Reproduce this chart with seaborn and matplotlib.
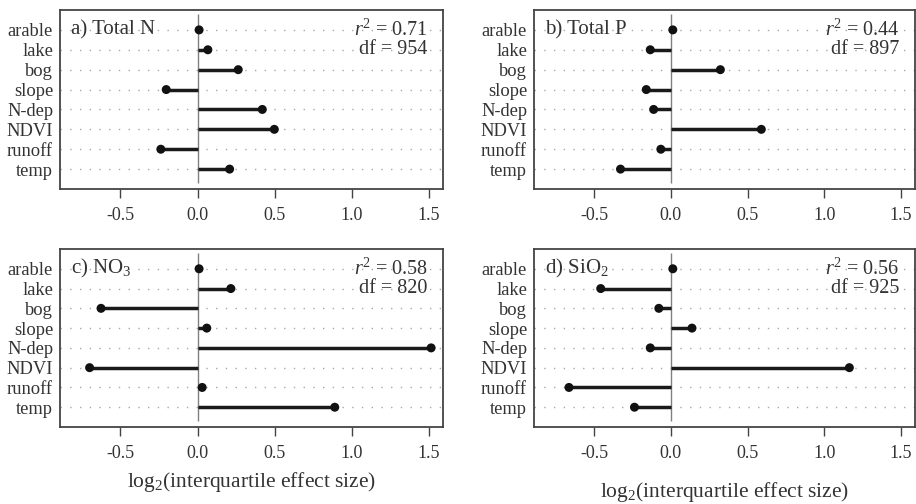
import numpy as np
import pandas as pd
import matplotlib
matplotlib.use('Agg')
import matplotlib.pyplot as plt
import seaborn as sns

# 数据
factors = ['arable', 'lake', 'bog', 'slope', 'N-dep', 'NDVI', 'runoff', 'temp']
total_n = [0.01, 0.067, 0.264, -0.203, 0.42, 0.498, -0.238, 0.208]
total_p = [0.013, -0.134, 0.323, -0.16, -0.112, 0.59, -0.065, -0.328]
no3 = [0.01, 0.216, -0.626, 0.06, 1.515, -0.70, 0.03, 0.89]
sio2 = [0.013, -0.457, -0.078, 0.138, -0.134, 1.164, -0.664, -0.237]

panel_titles = ['a) Total N', 'b) Total P', 'c) NO$_3$', 'd) SiO$_2$']
r2_values = ['0.71', '0.44', '0.58', '0.56']
df_values = ['954', '897', '820', '925']
x_ticks = [-0.5, 0.0, 0.5, 1.0, 1.5]
x_label = 'log$_2$(interquartile effect size)'

series = [total_n, total_p, no3, sio2]

sns.set_theme(style='white')
plt.rcParams['font.family'] = ['Liberation Serif', 'DejaVu Serif']
plt.rcParams['mathtext.fontset'] = 'custom'
plt.rcParams['mathtext.rm'] = 'Liberation Serif'
plt.rcParams['mathtext.it'] = 'Liberation Serif:italic'
plt.rcParams['axes.unicode_minus'] = False

fig = plt.figure(figsize=(9.16, 5.04), dpi=100)
W, H = 916, 504
# 各面板位置 (像素)
boxes = [(60, 10, 443, 189), (534, 10, 915, 189),
         (60, 249, 443, 427), (534, 249, 915, 427)]

pos = np.arange(len(factors))

for i, (vals, (l, t, r, b)) in enumerate(zip(series, boxes)):
    ax = fig.add_axes([l / W, 1 - b / H, (r - l) / W, (b - t) / H])
    data = pd.DataFrame({'pos': pos, 'value': vals})

    for p in pos:
        ax.axhline(p, color='#a8a8a8', lw=1.0, ls=(0, (1, 6)), zorder=0)
    ax.vlines(0, -0.8, 7.7, color='#808080', lw=1.0, zorder=1)
    ax.hlines(data['pos'], 0, data['value'], color='#1a1a1a', lw=2.5, zorder=2)
    sns.scatterplot(data=data, x='value', y='pos', ax=ax, color='#111111',
                    s=42, edgecolor='none', zorder=3, legend=False)

    ax.set_xlim(-0.892, 1.592)
    ax.set_ylim(8, -1)
    ax.set_xticks(x_ticks)
    ax.set_xticklabels(['%.1f' % v for v in x_ticks])
    ax.set_yticks(pos)
    ax.set_yticklabels(factors)
    ax.tick_params(axis='x', length=6.5, width=1.0, color='#444444', pad=6.5,
                   labelsize=13, labelcolor='#333333', bottom=True)
    ax.tick_params(axis='y', length=0, pad=5, labelsize=13.3, labelcolor='#333333')
    for s in ax.spines.values():
        s.set_color('#444444')
        s.set_linewidth(1.3)
    ax.set_xlabel('')
    ax.set_ylabel('')

    trans = ax.get_yaxis_transform()
    ax.text(0.03, 0, panel_titles[i], transform=trans, ha='left', va='center',
            fontsize=15, color='#333333')
    ax.text(0.96, 0, '$r^2$ = ' + r2_values[i], transform=trans, ha='right',
            va='center', fontsize=14.5, color='#333333')
    ax.text(0.96, 1, 'df = ' + df_values[i], transform=trans, ha='right',
            va='center', fontsize=14.5, color='#333333')

    if i == 2:
        ax.set_xlabel(x_label, fontsize=15.5, color='#333333', labelpad=6)
    if i == 3:
        ax.set_xlabel(x_label, fontsize=15.5, color='#333333', labelpad=13)

fig.savefig('out.png', dpi=100)
